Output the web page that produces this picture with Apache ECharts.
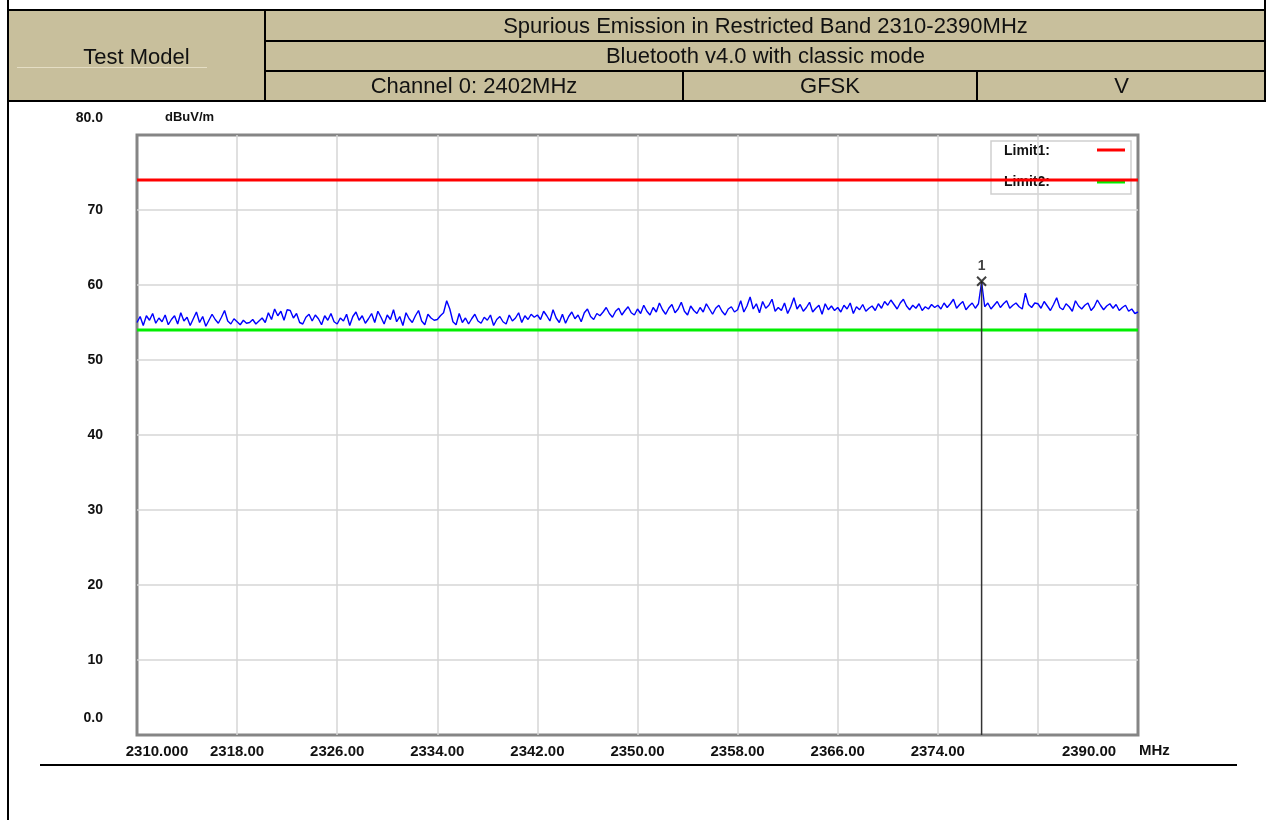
<!DOCTYPE html>
<html>
<head>
<meta charset="utf-8">
<script src="https://cdn.jsdelivr.net/npm/echarts@6/dist/echarts.min.js"></script>
<style>
  html, body { margin: 0; padding: 0; background: #ffffff; }
  body { width: 1273px; height: 820px; position: relative; overflow: hidden; font-family: "Liberation Sans", Arial, sans-serif; }
  #chart { position: absolute; left: 0; top: 0; width: 1273px; height: 820px; }
  .ln { position: absolute; background: #000; }
  .cell { position: absolute; text-align: center; font-size: 22px; color: #111; line-height: 30px; white-space: nowrap; }
</style>
</head>
<body>
<div id="chart"></div>

<!-- header table -->
<div style="position:absolute;left:8px;top:10px;width:1257px;height:91px;background:#c8bf9c;"></div>
<div class="ln" style="left:7px;top:0;width:2px;height:820px;"></div>
<div class="ln" style="left:1264px;top:0;width:2px;height:102px;"></div>
<div class="ln" style="left:7px;top:9px;width:1259px;height:2px;"></div>
<div class="ln" style="left:7px;top:100px;width:1259px;height:2px;"></div>
<div class="ln" style="left:264px;top:10px;width:2px;height:91px;"></div>
<div class="ln" style="left:265px;top:40px;width:1000px;height:2px;"></div>
<div class="ln" style="left:265px;top:70px;width:1000px;height:2px;"></div>
<div class="ln" style="left:682px;top:71px;width:2px;height:30px;"></div>
<div class="ln" style="left:976px;top:71px;width:2px;height:30px;"></div>
<div style="position:absolute;left:17px;top:67px;width:190px;height:1px;background:#e4ddc4;"></div>

<div class="cell" style="left:8px;top:42px;width:257px;">Test Model</div>
<div class="cell" style="left:266px;top:11px;width:999px;">Spurious Emission in Restricted Band 2310-2390MHz</div>
<div class="cell" style="left:266px;top:41px;width:999px;">Bluetooth v4.0 with classic mode</div>
<div class="cell" style="left:266px;top:71px;width:416px;">Channel 0: 2402MHz</div>
<div class="cell" style="left:684px;top:71px;width:292px;">GFSK</div>
<div class="cell" style="left:978px;top:71px;width:287px;">V</div>

<div class="ln" style="left:40px;top:764px;width:1197px;height:1.5px;"></div>

<script>
// ---- data ----
const freqStart = 2310;      // MHz
const freqEnd = 2390;        // MHz
const freqStep = 0.25;       // MHz per trace sample
const xTickLabels = ['2310.000','2318.00','2326.00','2334.00','2342.00','2350.00','2358.00','2366.00','2374.00','','2390.00'];
const yTickLabels = ['0.0','10','20','30','40','50','60','70','80.0'];
const limit1 = 74;   // dBuV/m
const limit2 = 54;   // dBuV/m
const markerFreq = 2377.5;
const markerLevel = 60.5;
const markerLabel = '1';

const trace2310 = [55.0,55.8,54.6,55.9,55.3,56.2,54.9,55.6,55.1,56.0,54.7,55.4,55.9,54.8,56.3,55.2,55.7,54.6,55.5,56.4,55.0,55.8,54.5,55.3,56.1,55.4,54.9,55.7,56.6,55.2,54.8,55.5];
const trace2318 = [55.1,54.7,55.3,54.9,55.0,55.4,54.8,55.2,55.6,55.0,56.3,55.4,56.8,55.9,56.5,55.3,56.7,56.6,55.6,56.2,55.0,54.8,55.7,56.1,55.2,56.0,55.5,54.7,55.9,55.3,56.2,55.1];
const trace2326 = [54.8,55.6,55.2,56.1,54.6,55.8,56.4,55.3,55.9,54.9,55.5,56.2,55.0,56.5,55.7,54.8,56.0,55.4,56.7,55.1,55.8,54.6,56.3,55.5,55.0,55.9,56.6,55.2,54.7,56.1,55.6,55.3];
const trace2334 = [55.4,55.9,56.3,57.9,56.8,55.1,54.7,56.2,55.0,55.6,54.8,55.5,56.1,55.2,54.9,55.7,55.3,56.0,54.6,55.4,55.8,55.1,54.8,56.0,55.2,55.6,56.3,55.0,55.9,55.4,56.1,55.7];
const trace2342 = [56.0,55.4,56.5,55.9,55.2,56.7,55.6,55.0,56.1,54.9,55.8,56.4,55.5,56.0,55.1,56.3,56.8,55.8,55.4,56.2,55.9,56.4,57.0,56.2,55.7,56.5,56.9,56.0,56.6,57.1,56.3,56.0];
const trace2350 = [56.8,56.2,57.3,56.5,56.0,57.0,56.4,57.6,56.7,56.1,56.9,57.4,56.3,56.8,57.7,56.5,56.0,57.2,56.6,56.2,57.0,56.4,57.5,56.8,56.1,56.9,57.3,56.5,56.0,56.8,57.1,56.4];
const trace2358 = [56.7,57.9,56.4,57.2,58.4,56.8,57.5,56.3,57.8,56.9,57.3,58.1,56.5,57.0,56.6,57.6,56.2,57.1,58.3,56.8,57.4,56.5,57.0,57.7,56.4,56.9,57.3,56.1,57.5,56.7,57.2,56.6];
const trace2366 = [57.0,56.4,57.3,56.8,57.6,56.2,57.1,56.7,57.4,56.5,56.9,57.2,56.6,57.5,56.9,57.8,57.3,58.0,57.4,56.8,57.6,58.1,57.2,56.7,57.3,56.9,57.5,56.6,57.1,56.8,57.4,57.0];
const trace2374 = [57.3,56.8,57.6,57.0,57.5,58.1,56.9,57.4,57.8,56.7,57.2,57.6,56.9,57.5,60.4,57.1,57.6,56.8,57.3,57.8,57.0,57.5,57.9,56.9,57.3,57.6,57.1,56.8,58.9,57.4,57.0,57.6];
const trace2382 = [57.5,56.9,57.8,57.2,56.6,57.4,58.3,57.0,56.7,57.5,57.1,56.5,57.9,57.2,56.8,57.3,57.6,56.6,57.1,58.0,57.3,56.7,57.2,57.5,56.9,57.4,56.6,57.0,57.3,56.5,56.8,56.2,56.4];

// ---- build ----
const traceLevels = [].concat(trace2310, trace2318, trace2326, trace2334, trace2342, trace2350, trace2358, trace2366, trace2374, trace2382);
const traceData = traceLevels.map((v, i) => [i * freqStep, v]); // x as offset from freqStart
const span = freqEnd - freqStart;

const chart = echarts.init(document.getElementById('chart'), null, { renderer: 'canvas' });
const labelFont = { fontFamily: 'Liberation Sans, Arial, sans-serif', fontWeight: 'bold', color: '#111' };

const option = {
  animation: false,
  backgroundColor: 'transparent',
  grid: { left: 137, right: 135, top: 135, bottom: 85, show: true, borderColor: '#858585', borderWidth: 3, backgroundColor: '#ffffff' },
  xAxis: {
    type: 'value', min: 0, max: span, interval: 8,
    axisLine: { show: false }, axisTick: { show: false },
    splitLine: { show: true, showMinLine: false, showMaxLine: false, lineStyle: { color: '#d6d6d6', width: 1.5 } },
    axisLabel: {
      margin: 9,
      formatter: function (v) {
        const idx = Math.round(v / 8);
        const t = xTickLabels[idx] || '';
        if (t === '') return '';
        if (idx === 0) return '{first|' + t + '}';
        if (idx === xTickLabels.length - 1) return '{last|' + t + '}';
        return '{n|' + t + '}';
      },
      rich: {
        n: Object.assign({ fontSize: 15 }, labelFont),
        first: Object.assign({ fontSize: 15, padding: [0, 0, 0, 40] }, labelFont),
        last: Object.assign({ fontSize: 15, padding: [0, 98, 0, 0] }, labelFont)
      }
    }
  },
  yAxis: {
    type: 'value', min: 0, max: 80, interval: 10,
    axisLine: { show: false }, axisTick: { show: false },
    splitLine: { show: true, showMinLine: false, showMaxLine: false, lineStyle: { color: '#d6d6d6', width: 1.5 } },
    axisLabel: {
      margin: 34,
      formatter: function (v) {
        const t = yTickLabels[Math.round(v / 10)];
        if (v === 0 || v === 80) return '{s|' + t + '}';
        return '{n|' + t + '}';
      },
      rich: {
        n: Object.assign({ fontSize: 14 }, labelFont),
        s: Object.assign({ fontSize: 14, padding: [0, 0, 34, 0] }, labelFont)
      }
    }
  },
  graphic: [
    { type: 'text', left: 165, top: 111, z: 0, style: { text: 'dBuV/m', font: 'bold 13px Liberation Sans, Arial, sans-serif', fill: '#111' } },
    { type: 'text', left: 1139, top: 743, z: 0, style: { text: 'MHz', font: 'bold 15px Liberation Sans, Arial, sans-serif', fill: '#111' } },
    { type: 'rect', z: 0, shape: { x: 991, y: 141, width: 140, height: 53 }, style: { fill: '#ffffff', stroke: '#cfcfcf', lineWidth: 1.5 } },
    { type: 'text', z: 0, left: 1004, top: 144, style: { text: 'Limit1:', font: 'bold 14px Liberation Sans, Arial, sans-serif', fill: '#111' } },
    { type: 'text', z: 0, left: 1004, top: 175, style: { text: 'Limit2:', font: 'bold 14px Liberation Sans, Arial, sans-serif', fill: '#111' } },
    { type: 'line', z: 0, shape: { x1: 1097, y1: 150, x2: 1125, y2: 150 }, style: { stroke: '#ff0000', lineWidth: 3 } },
    { type: 'line', z: 0, shape: { x1: 1097, y1: 182, x2: 1125, y2: 182 }, style: { stroke: '#00ee00', lineWidth: 3 } }
  ],
  series: [
    {
      type: 'line', data: traceData, showSymbol: false, symbol: 'none',
      lineStyle: { color: '#0000ff', width: 1.4 }, z: 3
    },
    {
      type: 'line', data: [[0, limit2], [span, limit2]], showSymbol: false, symbol: 'none',
      lineStyle: { color: '#00ee00', width: 3 }, z: 4
    },
    {
      type: 'line', data: [[0, limit1], [span, limit1]], showSymbol: false, symbol: 'none',
      lineStyle: { color: '#ff0000', width: 3 }, z: 5
    },
    {
      type: 'line', data: [[markerFreq - freqStart, 0], [markerFreq - freqStart, markerLevel]], showSymbol: false, symbol: 'none',
      lineStyle: { color: '#333333', width: 1.5 }, z: 6
    },
    {
      type: 'scatter', data: [[markerFreq - freqStart, markerLevel]],
      symbol: 'path://M0,0 L10,10 M10,0 L0,10', symbolSize: 9,
      itemStyle: { color: 'none', borderColor: '#111', borderWidth: 2 },
      label: { show: true, position: 'top', distance: 1, formatter: markerLabel, fontSize: 14, fontWeight: 'bold', color: '#111', fontFamily: 'Liberation Sans, Arial, sans-serif' },
      z: 7
    }
  ]
};
chart.setOption(option);
</script>
</body>
</html>
